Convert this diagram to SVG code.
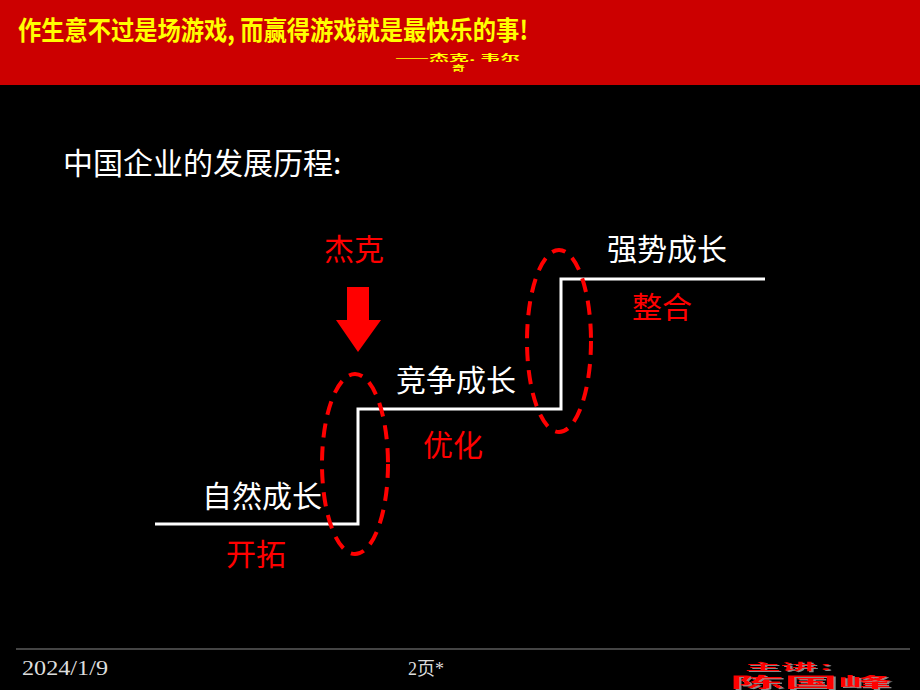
<svg xmlns="http://www.w3.org/2000/svg" width="920" height="690" viewBox="0 0 920 690">
<style>
.cjk{font-family:"Noto Sans CJK SC","Liberation Sans",sans-serif;}
.w{fill:#ffffff;font-size:30px;}
.r{fill:#ff0000;font-size:30px;}
.step{fill:none;stroke:#ffffff;stroke-width:3;}
.ell{fill:none;stroke:#ff0000;stroke-width:4;stroke-dasharray:14 9;}
</style>
<defs>
<filter id="sh" x="-10%" y="-30%" width="120%" height="160%">
<feDropShadow dx="2" dy="1" stdDeviation="0" flood-color="#888888"/>
</filter>
</defs>
<rect x="0" y="0" width="920" height="690" fill="#000000"/>
<g id="header">
<rect x="0" y="0" width="920" height="85" fill="#cc0000"/>
<text class="cjk" x="18" y="40" font-size="26" font-weight="bold" fill="#ffff00" textLength="510" lengthAdjust="spacingAndGlyphs">作生意不过是场游戏, 而赢得游戏就是最快乐的事!</text>
<text class="cjk" x="395" y="61" font-size="9" font-weight="bold" fill="#ffff00" textLength="125" lengthAdjust="spacingAndGlyphs">——杰克. 韦尔</text>
<text class="cjk" x="452" y="71" font-size="8" font-weight="bold" fill="#ffff00" textLength="13" lengthAdjust="spacingAndGlyphs">奇</text>
</g>
<g id="title"><text class="cjk" x="63" y="174" font-size="30" fill="#ffffff">中国企业的发展历程:</text></g>
<g id="connectors">
<polyline class="step" points="155,524 358,524 358,409 561,409 561,279 765,279"/>
<ellipse class="ell" cx="355" cy="464" rx="33" ry="90"/>
<ellipse class="ell" cx="559" cy="341" rx="32" ry="91"/>
</g>
<g id="jack">
<text class="cjk r" x="354" y="260" text-anchor="middle">杰克</text>
<polygon points="347,287 369,287 369,320 381,320 358,352 336,320 347,320" fill="#ff0000"/>
</g>
<g id="n1"><text class="cjk w" x="262" y="507" text-anchor="middle">自然成长</text><text class="cjk r" x="256" y="565" text-anchor="middle">开拓</text></g>
<g id="n2"><text class="cjk w" x="456" y="391" text-anchor="middle">竞争成长</text><text class="cjk r" x="453" y="456" text-anchor="middle">优化</text></g>
<g id="n3"><text class="cjk w" x="667" y="260" text-anchor="middle">强势成长</text><text class="cjk r" x="662" y="318" text-anchor="middle">整合</text></g>
<g id="footer">
<line x1="16" y1="649" x2="910" y2="649" stroke="#888888" stroke-width="1"/>
<text x="22" y="675" font-family="Liberation Serif,serif" font-size="20" fill="#dddddd" textLength="86" lengthAdjust="spacingAndGlyphs">2024/1/9</text>
<text x="408" y="675" font-size="18" fill="#dddddd" font-family="'Liberation Serif','Noto Sans CJK SC',serif" textLength="36" lengthAdjust="spacingAndGlyphs">2页*</text>
<g font-family="'Noto Sans CJK SC',sans-serif" font-weight="bold" fill="#ff0000" filter="url(#sh)">
<text x="745" y="670" font-size="9" textLength="108" lengthAdjust="spacingAndGlyphs">主讲：</text>
<text x="730" y="687" font-size="14" textLength="162" lengthAdjust="spacingAndGlyphs">陈国峰</text>
</g>
</g>
</svg>
